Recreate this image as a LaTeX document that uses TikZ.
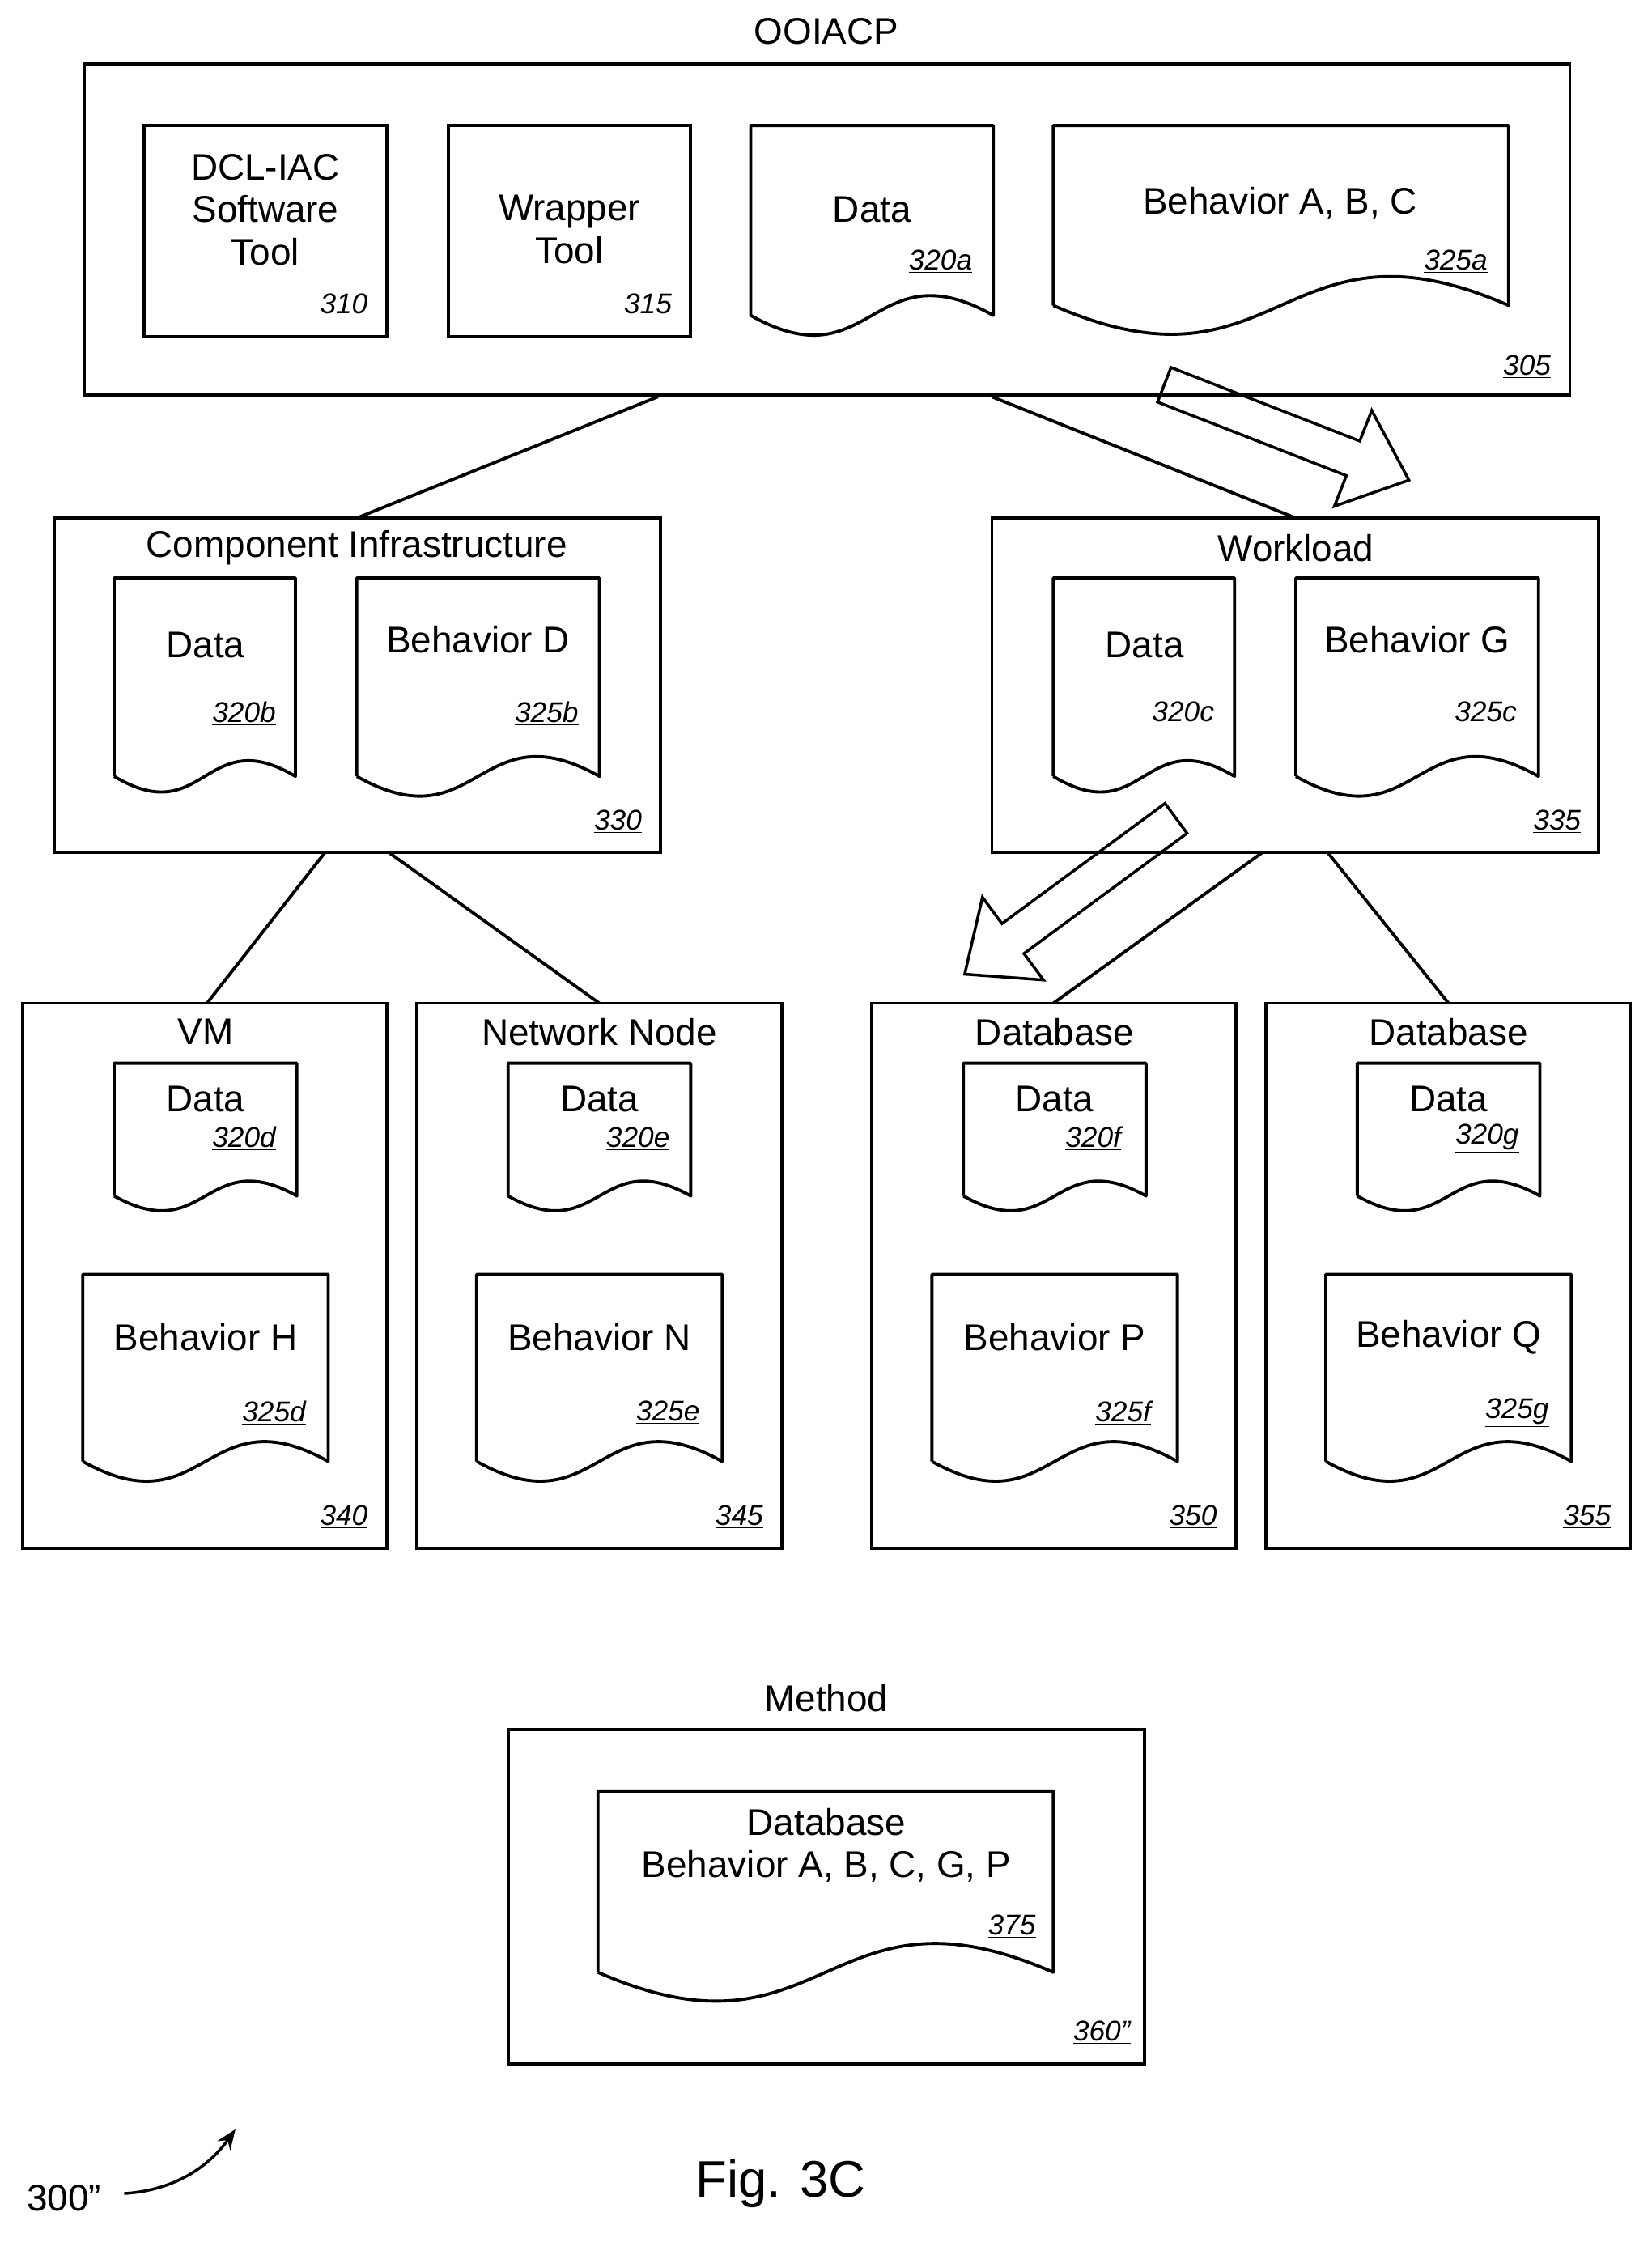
\documentclass[tikz,border=0pt]{standalone}
\usepackage{fontspec}
\setmainfont{Liberation Sans}
\usetikzlibrary{arrows.meta}
\begin{document}
\begin{tikzpicture}[x=1pt,y=-1pt,line width=2.2pt,
 t/.style={font=\fontsize{26}{30}\selectfont,inner sep=0,align=center},
 idl/.style={font=\fontsize{20}{22}\selectfont\itshape,inner sep=0},
 box/.style={draw,line width=2.2pt},
 blk/.style={draw,line width=2pt,line join=miter}]
\useasboundingbox (0,0) rectangle (1157,1571);
\newcommand{\docshp}[6]{% name x1 y1 x2 yb d
 \draw[line join=round] (#2,#5) -- (#2,#3) -- (#4,#3) -- (#4,#5) .. controls ({(#2+#4)/2},{#5-#6}) and ({(#2+#4)/2},{#5+#6}) .. (#2,#5);
 \coordinate (#1) at ({(#2+#4)/2},#3);}
\newcommand{\uid}[3]{\node[idl] (#1) at (#2) {\underline{#3}};}
% top
\node[t] (ooiacp) at (579,22) {OOIACP};
\draw[box] (59,45) rectangle (1100,277);
\uid{i305}{1070,257}{305}
\draw[box] (101,88) rectangle (271,236);
\node[t] (dcl) at (186,147) {DCL-IAC\\Software\\Tool}; \uid{i310}{241,214}{310}
\draw[box] (314,88) rectangle (484,236);
\node[t] (wr) at (399,161) {Wrapper\\Tool}; \uid{i315}{454,214}{315}
\docshp{d320a}{526}{88}{696}{221}{48}
\node[t] (ta) at (611,147) {Data}; \uid{i320a}{659,183}{320a}
\docshp{d325a}{738}{88}{1057}{214}{70}
\node[t] (tb) at (897,142) {Behavior A, B, C}; \uid{i325a}{1020,183}{325a}
% level 2
\draw[box] (38,363) rectangle (463,597);
\node[t] (ci) at (250,384) {Component Infrastructure}; \uid{i330}{433,576}{330}
\docshp{d320b}{80}{405}{207}{544}{38}
\node[t] (t2) at (144,452) {Data}; \uid{i320b}{171,500}{320b}
\docshp{d325b}{250}{405}{420}{544}{48}
\node[t] (t3) at (335,448) {Behavior D}; \uid{i325b}{383,500}{325b}
\draw[box] (695,363) rectangle (1120,597);
\node[t] (wl) at (908,384) {Workload}; \uid{i335}{1091,576}{335}
\docshp{d320c}{738}{405}{865}{544}{38}
\node[t] (t4) at (802,452) {Data}; \uid{i320c}{829,500}{320c}
\docshp{d325c}{908}{405}{1078}{544}{48}
\node[t] (t5) at (993,448) {Behavior G}; \uid{i325c}{1041,500}{325c}
% connectors
\coordinate (a1) at (461,278); \coordinate (a2) at (250,363);
\coordinate (a3) at (695,278); \coordinate (a4) at (908,363);
\coordinate (c1) at (228,597); \coordinate (c2) at (145,703);
\coordinate (c3) at (272,597); \coordinate (c4) at (420,703);
\coordinate (c5) at (885,597); \coordinate (c6) at (738,703);
\coordinate (c7) at (930,597); \coordinate (c8) at (1015,703);
\draw (a1)--(a2); \draw (a3)--(a4); \draw (c1)--(c2); \draw (c3)--(c4);
\draw (c5)--(c6); \draw (c7)--(c8);
% level 3
\foreach \cx/\l/\r/\ti/\beh/\n/\sfx in {144/16/271/VM/H/340/d,420/292/548/Network Node/N/345/e,739/611/866/Database/P/350/f,1015/887/1142/Database/Q/355/g}{
 \draw[box] (\l,703) rectangle (\r,1085);
 \node[t] (ti\n) at (\cx,723) {\ti};
 \node[idl] (i\n) at (\r-30,1063) {\underline{\n}};
 \docshp{dd\n}{\cx-64}{745}{\cx+64}{838}{36}
 \node[t] (td\n) at (\cx,770) {Data};
 \node[idl] (idd\n) at (\cx+27,798) {\underline{320\sfx}};
 \docshp{db\n}{\cx-86}{893}{\cx+86}{1024}{48}
 \node[t] (tb\n) at (\cx,937) {Behavior \beh};
 \node[idl] (idb\n) at (\cx+48,990) {\underline{325\sfx}};
}
% method
\node[t] (meth) at (579,1190) {Method};
\draw[box] (356,1212) rectangle (802,1446); \uid{i360}{772,1424}{360"}
\docshp{d375}{419}{1255}{738}{1382}{70}
\node[t] (t375) at (579,1293) {Database\\Behavior A, B, C, G, P}; \uid{i375}{709,1350}{375}
% block arrows
\draw[blk,shift={(901.5,303)},rotate=-21.3] (-92,13)--(50,13)--(50,36)--(92,0)--(50,-36)--(50,-13)--(-92,-13)--cycle;
\draw[blk,shift={(750,628)},rotate=-143.6] (-92,13)--(50,13)--(50,36)--(92,0)--(50,-36)--(50,-13)--(-92,-13)--cycle;
% figure label
\node[font=\fontsize{36}{40}\selectfont,inner sep=0] (fig) at (547,1530) {Fig. 3C};
\node[font=\fontsize{26}{30}\selectfont,inner sep=0] (n300) at (45,1540) {300"};
\coordinate (ae) at (165,1492);
\draw[line width=2pt,-{Stealth[length=14pt,width=11pt]}] (87,1537) .. controls (120,1535) and (145,1520) .. (ae);
\end{tikzpicture}
\end{document}
